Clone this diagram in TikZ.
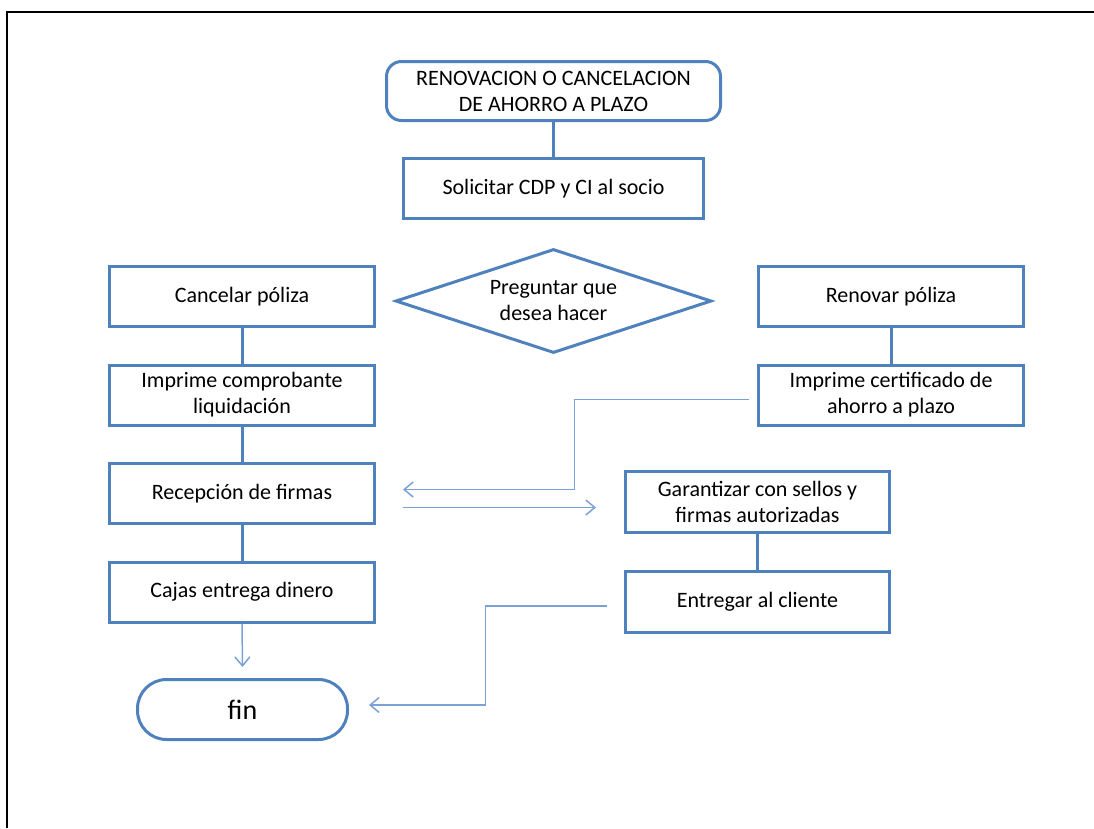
\documentclass[tikz,border=0pt]{standalone}
\usepackage{fontspec}
\setmainfont{Carlito}
\usetikzlibrary{shapes.geometric,arrows.meta,calc}
\definecolor{boxblue}{HTML}{4F81BD}
\definecolor{linkblue}{HTML}{7BA2D4}
\newcommand{\boxfont}{\fontsize{22}{26}\selectfont}
\tikzset{
  stepbox/.style={draw=boxblue, line width=3pt, rectangle, inner sep=0pt,
    minimum width=265pt, minimum height=60pt, align=center, font=\boxfont},
  termbox/.style={stepbox, rounded corners=15pt},
  decbox/.style={draw=boxblue, line width=3pt, diamond, aspect=3, inner sep=0pt,
    minimum width=316pt, minimum height=104pt, align=center, font=\boxfont},
  trunk/.style={draw=boxblue, line width=3pt},
  link/.style={draw=linkblue, line width=1.5pt},
  linkarrow/.style={link, -{Straight Barb[length=9pt,width=15pt,line width=1.5pt]}}
}
\begin{document}
\begin{tikzpicture}[x=1pt,y=-1pt]
\useasboundingbox (0,0) rectangle (1094,828);
% page frame
\draw[line width=2pt] (7,828) -- (7,12) -- (1094,12);

% nodes
\node[termbox, minimum width=334pt, minimum height=59pt] (start) at (553.5,91)
  {RENOVACION O CANCELACION\\DE AHORRO A PLAZO};
\node[stepbox, minimum width=300pt] (ask) at (553.5,188.5) {Solicitar CDP y CI al socio};
\node[decbox] (choice) at (553.5,301) {Preguntar que\\desea hacer};

\node[stepbox] (cancel) at (242,296.5) {Cancelar póliza};
\node[stepbox] (receipt) at (242,395) {Imprime comprobante\\liquidación};
\node[stepbox] (sign) at (242,493.5) {Recepción de firmas};
\node[stepbox] (cash) at (242,592) {Cajas entrega dinero};
\node[stepbox, rounded corners=29pt, minimum width=210pt, font=\fontsize{28}{32}\selectfont]
  (fin) at (242.5,709.5) {fin};

\node[stepbox] (renew) at (891,296.5) {Renovar póliza};
\node[stepbox] (cert) at (891,395) {Imprime certificado de\\ahorro a plazo};
\node[stepbox, minimum width=264pt, minimum height=61pt] (seal) at (757.5,502)
  {Garantizar con sellos y\\firmas autorizadas};
\node[stepbox, minimum width=264pt, minimum height=61pt] (deliver) at (757.5,601.5)
  {Entregar al cliente};

% straight connections
\draw[trunk] (start.south) -- (ask.north);
\draw[trunk] (cancel.south) -- (receipt.north);
\draw[trunk] (receipt.south) -- (sign.north);
\draw[trunk] (sign.south) -- (cash.north);
\draw[trunk] (renew.south) -- (cert.north);
\draw[trunk] (seal.south) -- (deliver.north);

% thin arrows
\draw[linkarrow] (cash.south) -- ($(fin.north)+(0,-11)$);
\draw[linkarrow] ($(cert.west)+(-8,4.5)$) -- ($(cert.west)+(-182.5,4.5)$)
  |- ($(sign.east)+(27,-4)$);
\draw[linkarrow] ($(sign.east)+(27,14)$) -- ($(seal.west)+(-28,5.5)$);
\draw[linkarrow] ($(deliver.west)+(-17,4.5)$) -- ($(deliver.west)+(-138.5,4.5)$)
  |- ($(fin.east)+(20,-4.5)$);
\end{tikzpicture}
\end{document}
